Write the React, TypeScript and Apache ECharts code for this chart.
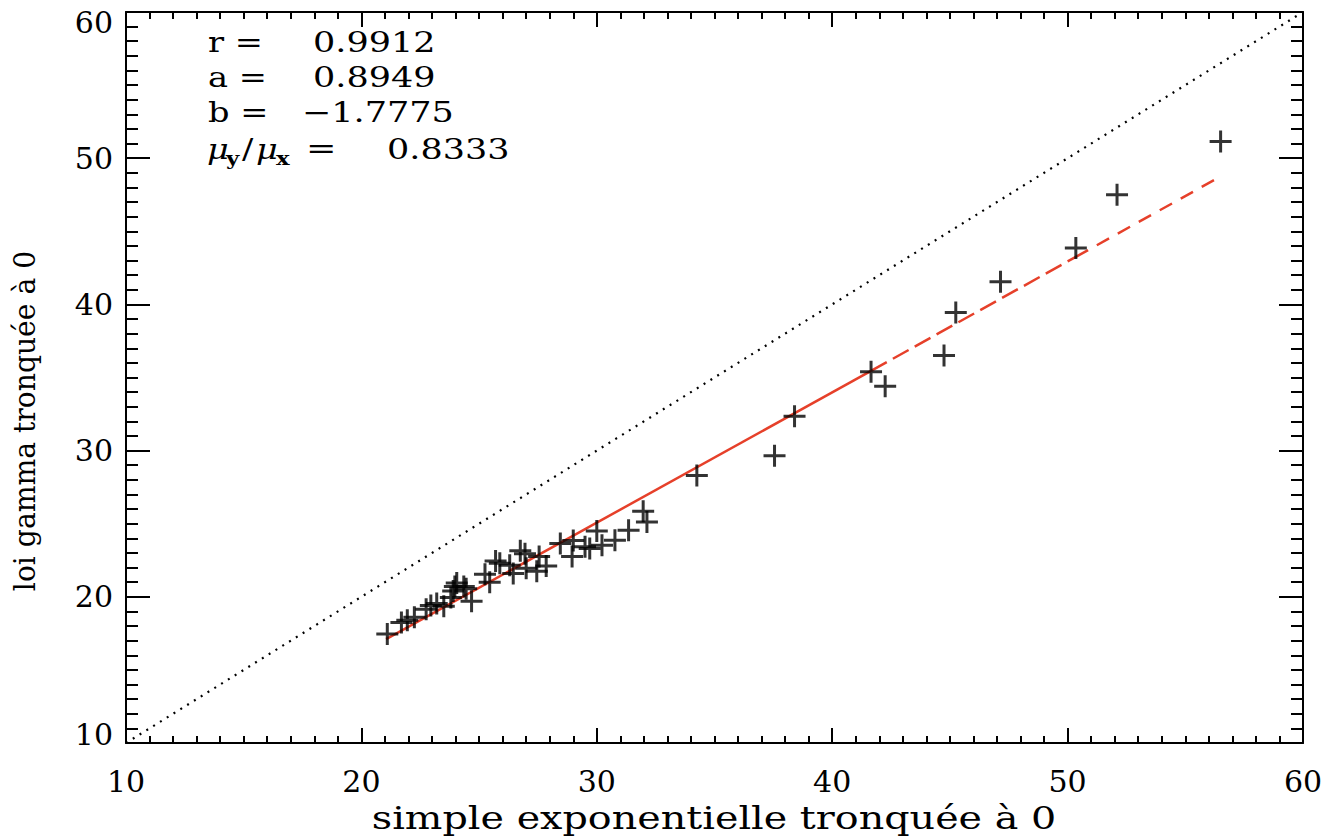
import React, { useEffect, useRef } from "react";
import * as echarts from "echarts";

const xTicks = [10, 20, 30, 40, 50, 60];
const yTicks = [10, 20, 30, 40, 50, 60];

const pointsX = [
  21.1, 21.7, 21.95, 22.25, 22.75, 22.95, 23.2, 23.5, 23.8, 23.9, 23.97, 24.05,
  24.35, 24.45, 24.68, 25.25, 25.45, 25.7, 25.88, 26.3, 26.45, 26.75, 26.95,
  27.0, 27.45, 27.55, 27.85, 28.45, 28.95, 29.0, 29.5, 29.7, 30.0, 30.22, 30.77,
  31.35, 31.97, 32.13, 34.25, 37.55, 38.4, 41.65, 42.25, 44.75, 45.25, 47.15,
  50.35, 52.1, 56.5,
];
const pointsY = [
  17.45, 18.25, 18.4, 18.6, 19.15, 19.4, 19.55, 19.35, 19.95, 20.4, 20.7, 20.95,
  20.7, 20.55, 19.7, 21.55, 21.0, 22.45, 22.3, 22.15, 21.6, 23.15, 22.95,
  21.95, 21.75, 22.75, 22.1, 23.65, 22.75, 23.85, 23.42, 23.3, 24.5, 23.52, 23.87,
  24.56, 25.85, 25.12, 28.3, 29.65, 32.35, 35.4, 34.4, 36.5, 39.45, 41.55,
  43.85, 47.5, 51.15,
];

// regression line pieces
const fitSolidX = [21.05, 41.65];
const fitSolidY = [17.1, 35.45];
const fitDash1X = [41.65, 50.35];
const fitDash1Y = [35.45, 43.25];
const fitDash2X = [50.35, 56.5];
const fitDash2Y = [43.25, 48.75];

const diagX = [10, 60];
const diagY = [10, 60];

const statLabels = ["r =", "a =", "b ="];
const statValues = ["0.9912", "0.8949", "\u22121.7775"];
const ratioValue = "0.8333";

const xTitle = "simple exponentielle tronquée à 0";
const yTitle = "loi gamma tronquée à 0";

const FONT = "'DejaVu Serif', 'Liberation Serif', serif";
const RED = "#e6402a";

const zip = (a: number[], b: number[]) => a.map((v, i) => [v, b[i]]);

export default function App() {
  const ref = useRef<HTMLDivElement>(null);
  useEffect(() => {
    if (!ref.current) return;
    const chart = echarts.init(ref.current, null, { renderer: "svg" });
    const baseAxis = {
      type: "value" as const,
      min: 10,
      max: 60,
      interval: 10,
      axisLine: { show: true, onZero: false, lineStyle: { color: "#000", width: 2 } },
      splitLine: { show: false },
    };
    const xAxisCommon = {
      ...baseAxis,
      axisTick: { show: true, inside: true, length: 15, lineStyle: { color: "#000", width: 2 } },
      minorTick: { show: true, splitNumber: 10, length: 7, lineStyle: { color: "#000", width: 2 } },
    };
    const yAxisCommon = {
      ...baseAxis,
      axisTick: { show: true, inside: true, length: 24, lineStyle: { color: "#000", width: 2 } },
      minorTick: { show: true, splitNumber: 10, length: 12, lineStyle: { color: "#000", width: 2 } },
    };
    const labelStyle = { color: "#000", fontSize: 30, fontFamily: FONT };
    const txt = (text: string, x: number, y: number, font: string, sx = 1.25) => ({
      type: "text",
      x,
      y,
      scaleX: sx,
      style: { text, fill: "#000", font, align: "left", verticalAlign: "middle" },
    });
    const F28 = `28px ${FONT}`;
    const rowsY = [42, 77, 112];
    const statTexts: any[] = [];
    statLabels.forEach((l, i) => {
      statTexts.push(txt(l, 208, rowsY[i], F28, 1.2));
      statTexts.push(txt(statValues[i], i === 2 ? 302 : 313, rowsY[i], F28, 1.25));
    });
    const muY = 149;
    statTexts.push(
      txt("μ", 207, muY, `italic 28px ${FONT}`, 1.2),
      txt("y", 226, muY + 9, `bold 19px ${FONT}`, 1.2),
      txt("/", 242, muY, F28, 1.2),
      txt("μ", 256, muY, `italic 28px ${FONT}`, 1.2),
      txt("x", 276, muY + 9, `bold 19px ${FONT}`, 1.2),
      txt("=", 306, muY, F28, 1.3),
      txt(ratioValue, 387, muY, F28, 1.25)
    );

    chart.setOption({
      animation: false,
      backgroundColor: "#fff",
      grid: { left: 126, right: 38, top: 12, bottom: 94, containLabel: false },
      xAxis: [
        {
          ...xAxisCommon,
          position: "bottom",
          axisLabel: {
            ...labelStyle,
            margin: 23,
            formatter: (v: number) => (xTicks.includes(v) ? String(v) : ""),
          },
        },
        { ...xAxisCommon, position: "top", axisLabel: { show: false } },
      ],
      yAxis: [
        {
          ...yAxisCommon,
          position: "left",
          axisLabel: {
            ...labelStyle,
            margin: 13,
            formatter: (v: number) =>
              !yTicks.includes(v) ? "" : v === 60 ? `{top|${v}}` : v === 10 ? `{bot|${v}}` : String(v),
            rich: {
              top: { ...labelStyle, padding: [20, 0, 0, 0] },
              bot: { ...labelStyle, padding: [0, 0, 18, 0] },
            },
          },
        },
        { ...yAxisCommon, position: "right", axisLabel: { show: false } },
      ],
      graphic: [
        {
          type: "text",
          x: 714,
          y: 818,
          scaleX: 1.24,
          style: {
            text: xTitle,
            fill: "#000",
            font: `32px ${FONT}`,
            align: "center",
            verticalAlign: "middle",
          },
        },
        {
          type: "text",
          x: 25,
          y: 421,
          rotation: Math.PI / 2,
          scaleX: 0.94,
          style: {
            text: yTitle,
            fill: "#000",
            font: `30px ${FONT}`,
            align: "center",
            verticalAlign: "middle",
          },
        },
        ...statTexts,
      ],
      series: [
        {
          type: "line",
          data: zip(diagX, diagY),
          symbol: "none",
          lineStyle: { color: "#000", width: 2.2, type: [2, 6] },
          z: 1,
        },
        {
          type: "line",
          data: zip(fitSolidX, fitSolidY),
          symbol: "none",
          lineStyle: { color: RED, width: 2.5 },
          z: 2,
        },
        {
          type: "line",
          data: zip(fitDash1X, fitDash1Y),
          symbol: "none",
          lineStyle: { color: RED, width: 2.5, type: [18, 7] },
          z: 2,
        },
        {
          type: "line",
          data: zip(fitDash2X, fitDash2Y),
          symbol: "none",
          lineStyle: { color: RED, width: 2.5, type: [14, 10] },
          z: 2,
        },
        {
          type: "scatter",
          data: zip(pointsX, pointsY),
          symbol: "path://M10 0L10 20M0 10L20 10",
          symbolSize: 22,
          itemStyle: { color: "none", borderColor: "#000", borderWidth: 3 },
          z: 3,
        },
      ],
    });
    return () => chart.dispose();
  }, []);
  return (
    <div
      ref={ref}
      style={{ position: "fixed", left: 0, top: 0, width: 1341, height: 837, background: "#fff" }}
    />
  );
}
